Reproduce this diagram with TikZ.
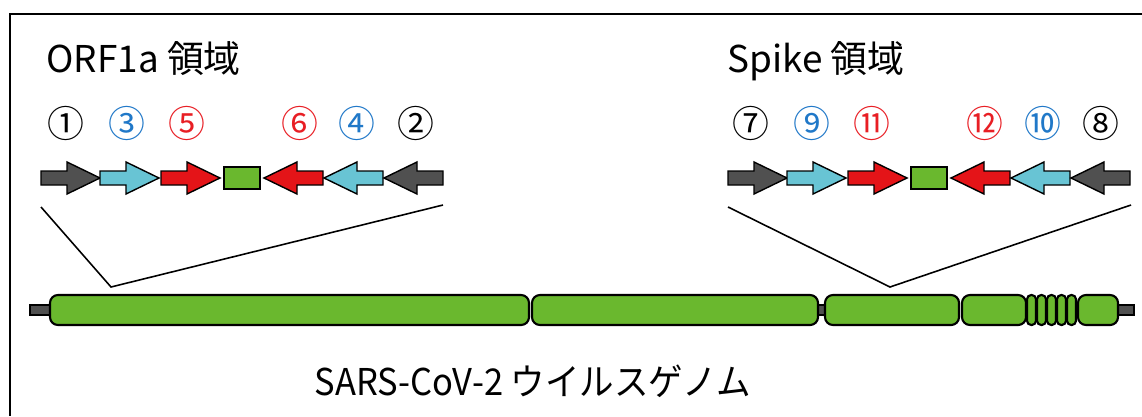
\documentclass[tikz,border=0pt]{standalone}
\usepackage{fontspec}
\setmainfont{Noto Sans CJK JP}
\definecolor{PrimerGray}{RGB}{80,80,80}
\definecolor{PrimerCyan}{RGB}{104,196,212}
\definecolor{PrimerRed}{RGB}{228,20,24}
\definecolor{GenomeGreen}{RGB}{106,184,46}
\definecolor{LabelBlue}{RGB}{32,120,200}
\definecolor{LabelRed}{RGB}{232,30,36}
\usetikzlibrary{positioning}

\tikzset{
  seg/.style={draw=black, fill=GenomeGreen, line width=1.2pt, rounded corners=4.5pt},
  stub/.style={draw=black, fill=PrimerGray, line width=0.8pt},
  primer/.style={draw=black, line width=0.8pt},
  numlabel/.style={font=\fontsize{21}{24}\selectfont, inner sep=0pt},
  regiontitle/.style={font=\fontsize{21}{25}\selectfont, anchor=base west, inner sep=0pt},
}

\begin{document}
\begin{tikzpicture}[x=0.02cm, y=-0.02cm]
  \useasboundingbox (0,0) rectangle (1142,416);
  % Frame
  \draw[line width=1.1pt] (1142,14) -- (10,14) -- (10,416);
  % Region titles
  \node[regiontitle] (orf) at (46,72) {ORF1a 領域};
  \node[regiontitle] (spike) at (727,72) {Spike 領域};
  % Primer labels
  \foreach \x/\n/\c [count=\i] in {66/①/black, 127/③/LabelBlue, 187/⑤/LabelRed, 300/⑥/LabelRed, 357/④/LabelBlue, 416/②/black,
    751/⑦/black, 812/⑨/LabelBlue, 872/⑪/LabelRed, 985/⑫/LabelRed, 1043/⑩/LabelBlue, 1101/⑧/black}
    \node[numlabel, text=\c] (lab\i) at (\x,123) {\n};
  % Primers
  \foreach \o in {0,687} {
    \foreach \x/\c/\d in {41/PrimerGray/1, 100/PrimerCyan/1, 161/PrimerRed/1, 323/PrimerRed/-1, 383/PrimerCyan/-1, 443/PrimerGray/-1}
      \filldraw[primer, fill=\c, shift={(\o+\x,178)}, xscale=\d] (0,-7) -- (26,-7) -- (26,-16) -- (59,0) -- (26,16) -- (26,7) -- (0,7) -- cycle;
    \filldraw[primer, fill=GenomeGreen] (\o+224,167) rectangle (\o+260,189);
  }
  % Leader lines
  \coordinate (orfL) at (41,207);
  \coordinate (orfR) at (443,205);
  \coordinate (orfV) at (111,287);
  \coordinate (spikeL) at (728,207);
  \coordinate (spikeR) at (1131,205);
  \coordinate (spikeV) at (890,287);
  \draw[line width=0.9pt] (orfL) -- (orfV) -- (orfR);
  \draw[line width=0.9pt] (spikeL) -- (spikeV) -- (spikeR);
  % Genome
  \filldraw[stub] (30,305) rectangle (52,315);
  \filldraw[stub] (816,305) rectangle (827,315);
  \filldraw[stub] (1116,305) rectangle (1134,315);
  \foreach \a/\b in {50/529, 532/818, 825/959, 962/1026, 1078/1118}
    \filldraw[seg] (\a,295) rectangle (\b,325);
  \foreach \a in {1027,1037,1047,1057,1067}
    \filldraw[seg, rounded corners=2.4pt] (\a,295) rectangle (\a+9,325);
  \node[font=\fontsize{21}{25}\selectfont, anchor=base, inner sep=0pt, xscale=0.935, transform shape] (genome) at (533,395) {SARS-CoV-2 ウイルスゲノム};
\end{tikzpicture}
\end{document}
